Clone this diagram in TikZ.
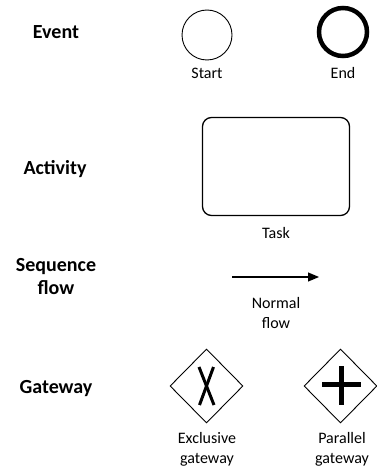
\documentclass[tikz,border=0pt]{standalone}
\usepackage{fontspec}
\setmainfont{Carlito}
\usetikzlibrary{arrows.meta,shapes.geometric}
\begin{document}
\begin{tikzpicture}[x=1pt,y=-1pt,
  heading/.style={font=\fontsize{20}{23}\selectfont\bfseries, anchor=base, align=center, inner sep=0pt},
  caption/.style={font=\fontsize{16}{20}\selectfont, anchor=base, align=center, inner sep=0pt},
  gate/.style={diamond, draw, line width=0.9pt, minimum width=73pt, minimum height=74pt, inner sep=0pt},
  xstroke/.style={line width=3pt},
  plusstroke/.style={line width=5pt}]
\useasboundingbox (0,0) rectangle (376,468);

% row titles (multi-line nodes sit on the baseline of their last line)
\node[heading] (hEvent) at (56,39) {Event};
\node[heading] (hActivity) at (55,174) {Activity};
\node[heading] (hFlow) at (56,294) {Sequence\\flow};
\node[heading] (hGateway) at (56,393) {Gateway};

% events
\node[circle, draw, line width=0.9pt, minimum size=50pt, inner sep=0pt] (start) at (207,35) {};
\node[circle, draw, line width=4.5pt, minimum size=48pt, inner sep=0pt] (end) at (343,32) {};
\node[caption] (startLbl) at (207,79) {Start};
\node[caption] (endLbl) at (343,79) {End};

% activity
\node[draw, rounded corners=9pt, line width=1.3pt, minimum width=147pt, minimum height=98pt, inner sep=0pt] (task) at (276,166.5) {};
\node[caption] (taskLbl) at (276,238) {Task};

% sequence flow
\coordinate (fromPt) at (232,277);
\coordinate (toPt) at (319,277);
\draw[line width=1.2pt, -{Triangle[length=11pt,width=9pt]}] (fromPt) -- (toPt);
\node[caption] (flowLbl) at (276,328) {Normal\\flow};

% gateways
\node[gate] (xor) at (206.5,386) {};
\draw[xstroke] (199,367) -- (214,405);
\draw[xstroke] (213.5,367) -- (199.5,405);
\node[caption] (xorLbl) at (207,463) {Exclusive\\gateway};

\node[gate] (and) at (340.5,386) {};
\draw[plusstroke] (322,384) -- (361,384);
\draw[plusstroke] (341.5,366) -- (341.5,405);
\node[caption] (andLbl) at (342,463) {Parallel\\gateway};
\end{tikzpicture}
\end{document}
